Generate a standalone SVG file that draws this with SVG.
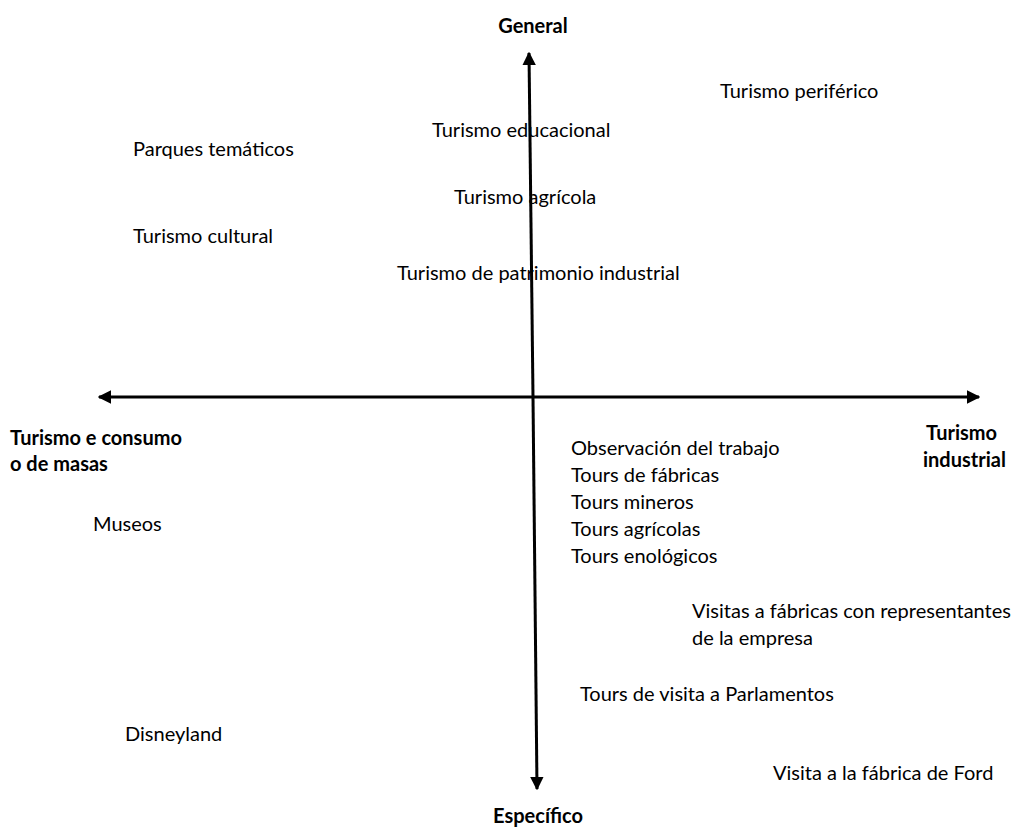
<svg xmlns="http://www.w3.org/2000/svg" width="1015" height="827" viewBox="0 0 1015 827">
<style>
text{font-family:Lato,"Open Sans","Liberation Sans",sans-serif;font-size:20px;fill:#000}
.b{font-weight:bold}
.ax{stroke:#000;stroke-width:3;fill:none}
</style>
<defs>
<marker id="ah" viewBox="0 0 10 10" refX="9" refY="5" markerWidth="4.5" markerHeight="4.5" orient="auto" markerUnits="strokeWidth">
<path d="M0,0 L10,5 L0,10 z" fill="#000"/>
</marker>
</defs>
<rect width="1015" height="827" fill="#fff"/>
<g id="connectors">
<line class="ax" x1="533" y1="397" x2="529" y2="53" marker-end="url(#ah)"/>
<line class="ax" x1="533" y1="397" x2="537" y2="789" marker-end="url(#ah)"/>
<line class="ax" x1="533" y1="397" x2="99" y2="397" marker-end="url(#ah)"/>
<line class="ax" x1="533" y1="397" x2="979" y2="397" marker-end="url(#ah)"/>
</g>
<g id="axis-labels">
<text id="general" class="b" x="533" y="33" text-anchor="middle">General</text>
<text id="especifico" class="b" x="538" y="823" text-anchor="middle">Específico</text>
<g id="masas"><text class="b" x="10" y="445">Turismo e consumo</text><text class="b" x="10" y="471">o de masas</text></g>
<g id="industrial"><text class="b" x="926" y="440">Turismo</text><text class="b" x="923" y="467">industrial</text></g>
</g>
<g id="items">
<text id="periferico" x="720" y="98">Turismo periférico</text>
<text id="parques" x="133" y="156">Parques temáticos</text>
<text id="educacional" x="432" y="137">Turismo educacional</text>
<text id="agricola" x="454" y="204">Turismo agrícola</text>
<text id="cultural" x="133" y="243">Turismo cultural</text>
<text id="patrimonio" x="397" y="280">Turismo de patrimonio industrial</text>
<g id="tours">
<text x="571" y="455">Observación del trabajo</text>
<text x="571" y="482">Tours de fábricas</text>
<text x="571" y="509">Tours mineros</text>
<text x="571" y="536">Tours agrícolas</text>
<text x="571" y="563">Tours enológicos</text>
</g>
<text id="museos" x="93" y="531">Museos</text>
<g id="visitas"><text x="692" y="618">Visitas a fábricas con representantes</text><text x="692" y="645">de la empresa</text></g>
<text id="parlamentos" x="580" y="701">Tours de visita a Parlamentos</text>
<text id="disneyland" x="125" y="741">Disneyland</text>
<text id="ford" x="773" y="780">Visita a la fábrica de Ford</text>
</g>
</svg>
